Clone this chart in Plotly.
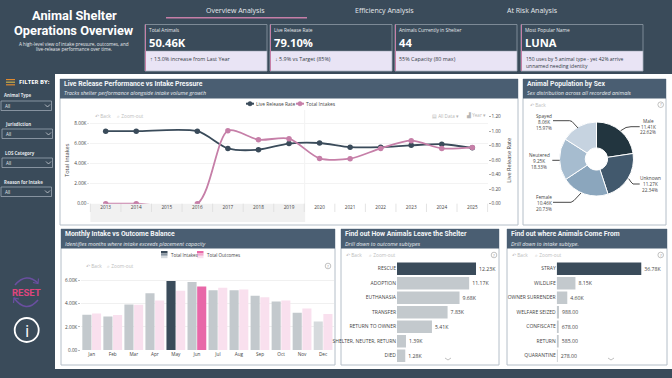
import plotly.graph_objects as go

W, H = 672, 378
BG = "#3a4b5a"
BAR_DARK = "#3a4b5a"
BAR_GREY = "#c3c9cd"
BAR_GREY2 = "#d6dadd"
PINK_L = "#f9e0ee"
PINK_D = "#e868a8"
LINE_PINK = "#c67fa8"
TITLE = "#4a5e72"
SANS = "Open Sans"
HEAD = "Roboto"

years = ["2013", "2014", "2015", "2016", "2017", "2018", "2019", "2020", "2021", "2022", "2023", "2024", "2025"]
intakes_k = [0, 0, None, 0, 7.3, 6.4, 6.5, 4.53, 4.5, 5.53, 6.3, 5.53, 5.63]
release_rate = [1.0, 1.0, None, 1.0, 0.763, 0.745, 0.83, 0.837, 0.78, 0.78, 0.805, 0.82, 0.77]

months = ["Jan", "Feb", "Mar", "Apr", "May", "Jun", "Jul", "Aug", "Sep", "Oct", "Nov", "Dec"]
month_intakes = [3.06, 2.91, 3.94, 4.91, 5.97, 5.89, 5.17, 5.17, 4.69, 4.2, 3.23, 2.46]
month_outcomes = [3.17, 3.03, 3.91, 4.29, 5.14, 5.49, 5.4, 5.23, 4.57, 4.29, 3.6, 3.11]

sex_labels = ["Male", "Unknown", "Female", "Neutered", "Spayed"]
sex_values = [11.41, 11.27, 10.46, 9.25, 8.06]
sex_pct = ["22.62%", "22.34%", "20.73%", "18.33%", "15.97%"]
sex_colors = ["#22353f", "#42596d", "#8ba6bd", "#a6bccf", "#c6d3e0"]

out_labels = ["RESCUE", "ADOPTION", "EUTHANASIA", "TRANSFER", "RETURN TO OWNER", "SHELTER, NEUTER, RETURN", "DIED"]
out_values = [12.23, 11.17, 9.68, 7.83, 5.41, 1.39, 1.28]
out_text = ["12.23K", "11.17K", "9.68K", "7.83K", "5.41K", "1.39K", "1.28K"]

in_labels = ["STRAY", "WILDLIFE", "OWNER SURRENDER", "WELFARE SEIZED", "CONFISCATE", "RETURN", "QUARANTINE"]
in_values = [36.78, 8.15, 4.60, 0.988, 0.678, 0.585, 0.278]
in_text = ["36.78K", "8.15K", "4.60K", "988.00", "678.00", "585.00", "278.00"]

kpi_titles = ["Total Animals", "Live Release Rate", "Animals Currently in Shelter", "Most Popular Name"]
kpi_values = ["50.46K", "79.10%", "44", "LUNA"]
kpi_notes = ["↑ 13.0% increase from Last Year", "↓ 5.9% vs Target (85%)", "55% Capacity (80 max)",
             "150 uses by 5 animal type - yet 42% arrive<br>unnamed needing identity"]
kpi_x = [(145, 267), (270, 392), (395, 517), (521, 643)]

filters = ["Animal Type", "Jurisdiction", "LOS Category", "Reason for Intake"]
filter_pos = [(95, 1, 101), (123.5, 2, 129), (152.7, 2, 158), (181.7, 1, 187)]

shapes, annos = [], []


def fx(x):
    return x / W


def fy(y):
    return 1 - y / H


def rect(x0, y0, x1, y1, fill, line=None, lw=1, layer="below"):
    shapes.append(dict(type="rect", xref="paper", yref="paper", x0=fx(x0), x1=fx(x1), y0=fy(y0), y1=fy(y1),
                       fillcolor=fill, line=dict(color=line or "rgba(0,0,0,0)", width=lw if line else 0), layer=layer))


def path(points, color, lw=1, layer="above"):
    d = "M " + " L ".join(f"{fx(a)},{fy(b)}" for a, b in points)
    shapes.append(dict(type="path", xref="paper", yref="paper", path=d, line=dict(color=color, width=lw), layer=layer))


def curve(d, color, lw=1.5):
    shapes.append(dict(type="path", xref="paper", yref="paper", path=d, line=dict(color=color, width=lw), layer="above"))


def circle(cx, cy, r, color, lw=1, fill="rgba(0,0,0,0)"):
    shapes.append(dict(type="circle", xref="paper", yref="paper", x0=fx(cx - r), x1=fx(cx + r), y0=fy(cy + r), y1=fy(cy - r),
                       line=dict(color=color, width=lw), fillcolor=fill, layer="above"))


def text(x, y, s, size=6, color="#444", anchor="left", bold=False, italic=False, font=SANS, angle=0):
    if bold:
        s = f"<b>{s}</b>"
    if italic:
        s = f"<i>{s}</i>"
    annos.append(dict(xref="paper", yref="paper", x=fx(x), y=fy(y), text=s, showarrow=False, xanchor=anchor,
                      yanchor="middle", borderpad=0, textangle=angle, align=anchor,
                      font=dict(size=size, color=color, family=font)))


def panel(x0, y0, x1, y1, title, sub, tsize=6.8):
    rect(x0, y0, x1, y1, "white", "#b4bec8", 1)
    rect(x0, y0, x1, y0 + 19.5, TITLE)
    text(x0 + 3, y0 + 5, title, tsize, "#f4f6f8", bold=True, font=HEAD)
    text(x0 + 3, y0 + 14.5, sub, 5.4, "#e8ecf0", italic=True)


def toolbar(xback, xzoom, y):
    text(xback, y, "↶ Back", 4.8, "#bdbdbd")
    if xzoom:
        text(xzoom, y, "⌕ Zoom-out", 4.8, "#bdbdbd")


def helpmark(x, y):
    circle(x, y, 2.8, "#a8a8a8", 0.7)
    text(x, y, "?", 4.2, "#909090", "center")


# Page furniture
rect(55, 74, 672, 369, "white")
text(74, 15.2, "Animal Shelter", 12.8, "white", "center", bold=True, font=HEAD)
text(74, 31, "Operations Overview", 12.8, "white", "center", bold=True, font=HEAD)
text(74, 43.5, "A high-level view of intake pressure, outcomes, and", 4.6, "#e6e9ec", "center")
text(74, 49, "live-release performance over time.", 4.6, "#e6e9ec", "center")

text(236, 10, "Overview Analysis", 7, "#e6e9ec", "center")
text(384, 10, "Efficiency Analysis", 7, "#e6e9ec", "center")
text(532, 10, "At Risk Analysis", 7, "#e6e9ec", "center")
rect(166, 17, 307, 18.5, "#c67fa8")

for (x0, x1), t, v, n in zip(kpi_x, kpi_titles, kpi_values, kpi_notes):
    rect(x0, 24.5, x1, 71, BG, "#8e9aa6", 0.8)
    rect(x0, 51, x1, 71, "#e9e4f5", "#8e9aa6", 0.5)
    rect(x0, 24.5, x0 + 1, 71, "#c67fa8")
    text(x0 + 3, 30, t, 4.8, "#e6e9ec")
    text(x0 + 3, 42, v, 11.2, "white", bold=True)
    long_note = "<br>" in n
    text(x0 + 3.5, 63 if long_note else 59, n, 5 if long_note else 5.4, "#333a44")

# Filter column
for i, c in enumerate(["#e08a30", "#c9b04a", "#e08a30"]):
    rect(6, 79 + i * 2.6, 15, 80.2 + i * 2.6, c)
text(17.5, 82, "FILTER BY:", 6, "white", bold=True)
for lab, (ly, bx, by) in zip(filters, filter_pos):
    text(bx + 1.5, ly, lab, 4.4, "#e0e4e8", bold=True)
    rect(bx, by, bx + 50.5, by + 9.5, "rgba(0,0,0,0)", "#9aa6b2", 0.8)
    text(bx + 3, by + 5, "All", 4.6, "#e0e4e8")
    path([(bx + 44, by + 3.5), (bx + 46.5, by + 6), (bx + 49, by + 3.5)], "#dfe3e7", 0.7)

# Reset and info
curve(f"M {fx(15)},{fy(285)} Q {fx(26)},{fy(272)} {fx(38)},{fy(283)}", "#6a4fa0", 1.6)
curve(f"M {fx(38)},{fy(300)} Q {fx(26)},{fy(314)} {fx(14)},{fy(298)}", "#6a4fa0", 1.6)
path([(33, 282.5), (38, 283.5), (38.5, 278.5)], "#6a4fa0", 1.2)
path([(19, 299), (14, 298), (13.5, 303)], "#6a4fa0", 1.2)
text(26, 292.7, "RESET", 9.5, "#e0457e", "center", bold=True, font=HEAD)
circle(26.7, 330, 12, "white", 1.8)
text(26.7, 330, "i", 17, "white", "center", font=SANS)

# Panels
panel(60, 79, 518, 225, "Live Release Performance vs Intake Pressure", "Tracks shelter performance alongside intake volume growth")
panel(523, 79, 666, 225, "Animal Population by Sex", "Sex distribution across all recorded animals")
panel(61, 229, 335, 365, "Monthly Intake vs Outcome Balance", "Identifies months where intake exceeds placement capacity")
panel(341, 229, 499, 365, "Find out How Animals Leave the Shelter", "Drill down to outcome subtypes")
panel(507, 229, 667, 365, "Find out where Animals Come From", "Drill down to intake subtype.")

# Line chart furniture
PL, PR, PT, PB = 90.4, 487.6, 116.7, 203.7
rect(PL, PB, 304.7, 222, "#f1f1f1")
path([(304.7, 110), (304.7, 222)], "#eeeeee", 0.8, "below")
for i in range(len(years) + 1):
    bx = PL + (PR - PL) * i / len(years)
    path([(bx, PB), (bx, 212)], "#dddddd", 0.8, "below")
toolbar(94, 116, 115.7)
text(431, 115.7, "▤ All Data ▾", 4.6, "#b5b5b5")
text(465, 115.7, "▟ Year ▾", 4.6, "#b5b5b5")
path([(246, 103.7), (254, 103.7)], BAR_DARK, 2)
circle(250, 103.7, 2.2, BAR_DARK, 0.5, BAR_DARK)
text(255, 103.7, "Live Release Rate", 4.9, "#444")
path([(296, 103.7), (304, 103.7)], LINE_PINK, 2)
circle(300, 103.7, 2.2, LINE_PINK, 0.5, LINE_PINK)
text(305, 103.7, "Total Intakes", 4.9, "#444")

# Pie labels
leaders = [
    [(620.7, 130.7), (626, 127.5), (631, 126.7), (639.7, 126.7)],
    [(628.7, 178.7), (631, 182), (633, 184), (639.7, 184)],
    [(581, 193), (574, 200.5), (571, 202.3), (553, 202.3)],
    [(559.7, 160.3), (552.3, 160.3)],
    [(578, 128), (572, 121.5), (569.7, 120.7), (553, 120.7)],
]
label_pos = [(648, 120.7), (650.3, 178), (544, 197), (539, 155), (543.7, 116)]
for lab, val, pct, pts, (lx, ly) in zip(sex_labels, sex_values, sex_pct, leaders, label_pos):
    path(pts, "#333333", 0.9)
    text(lx, ly, lab, 4.7, "#444", "center")
    text(lx, ly + 5.8, f"{val:.2f}K", 4.7, "#444", "center")
    text(lx, ly + 11.8, pct, 4.7, "#444", "center")
toolbar(529, None, 104.7)
helpmark(660.7, 104.7)

# Monthly furniture
for x, c in [(161, ("#3a4b5a", "#8794a0", "#d5dade")), (197, ("#e868a8", "#f3a8cd", "#f9e0ee"))]:
    for i, col in enumerate(c):
        rect(x, 251 + i * 2.4, x + 6.5, 253.4 + i * 2.4, col)
text(169.7, 254.5, "Total Intakes", 4.5, "#444")
text(206, 254.5, "Total Outcomes", 4.5, "#444")
toolbar(84.5, 106, 266)
helpmark(328, 266)

# Bar panels furniture
toolbar(345, 368, 255)
helpmark(494, 255)
path([(445, 358), (448, 360), (451, 358)], "#b0b0b0", 0.8)
toolbar(511, 534, 255)
helpmark(660.7, 255)
path([(608, 358), (611, 360), (614, 358)], "#b0b0b0", 0.8)

fig = go.Figure()
fig.add_trace(go.Scatter(x=years, y=release_rate, mode="lines+markers", name="Live Release Rate", yaxis="y", xaxis="x",
                         connectgaps=True, line=dict(color=BAR_DARK, width=1.8, shape="spline", smoothing=0.8),
                         marker=dict(size=5.5, color=BAR_DARK)))
fig.add_trace(go.Scatter(x=years, y=intakes_k, mode="lines+markers", name="Total Intakes", yaxis="y2", xaxis="x",
                         connectgaps=True, line=dict(color=LINE_PINK, width=1.8, shape="spline", smoothing=0.8),
                         marker=dict(size=5.5, color=LINE_PINK)))

in_colors = [BAR_GREY] * 12
in_colors[4] = BAR_DARK
in_colors[11] = BAR_GREY2
out_colors = [PINK_L] * 12
out_colors[5] = PINK_D
fig.add_trace(go.Bar(x=months, y=month_intakes, name="Total Intakes", marker=dict(color=in_colors, line=dict(width=0)), xaxis="x3", yaxis="y3"))
fig.add_trace(go.Bar(x=months, y=month_outcomes, name="Total Outcomes", marker=dict(color=out_colors, line=dict(width=0)), xaxis="x3", yaxis="y3"))

fig.add_trace(go.Pie(labels=sex_labels, values=sex_values, sort=False, direction="clockwise", rotation=0, hole=0.3,
                     textinfo="none", marker=dict(colors=sex_colors, line=dict(color="white", width=1)),
                     domain=dict(x=[fx(559.5), fx(633.5)], y=[fy(196), fy(122)])))

fig.add_trace(go.Bar(y=out_labels, x=out_values, orientation="h", text=out_text, textposition="outside", cliponaxis=False,
                     textfont=dict(size=5.2, color="#444", family=SANS),
                     marker=dict(color=[BAR_DARK] + [BAR_GREY] * 6, line=dict(width=0)), xaxis="x4", yaxis="y4", name="Outcomes"))
fig.add_trace(go.Bar(y=in_labels, x=in_values, orientation="h", text=in_text, textposition="outside", cliponaxis=False,
                     textfont=dict(size=5.2, color="#444", family=SANS),
                     marker=dict(color=[BAR_DARK] + [BAR_GREY] * 6, line=dict(width=0)), xaxis="x5", yaxis="y5", name="Intakes"))

tick = dict(size=4.7, color="#444", family=SANS)
fig.update_layout(
    template="none", width=W, height=H, margin=dict(l=0, r=0, t=0, b=0, pad=0), autosize=False,
    paper_bgcolor=BG, plot_bgcolor="rgba(0,0,0,0)", showlegend=False, hovermode=False,
    bargap=0.08, bargroupgap=0.06, font=dict(family=SANS), shapes=shapes, annotations=annos,
    xaxis=dict(domain=[fx(PL), fx(PR)], anchor="y", type="category", range=[-0.5, 12.5], categoryorder="array", categoryarray=years,
               tickfont=tick, ticks="", showgrid=False, zeroline=False, showline=False, automargin=False, tickmode="array", tickvals=years),
    yaxis=dict(domain=[fy(PB), fy(PT)], anchor="x", side="right", range=[0, 1.2], tickvals=[0, .2, .4, .6, .8, 1, 1.2],
               tickformat=".2f", tickfont=tick, ticks="outside", ticklen=2, tickcolor="#aaa", showgrid=False, zeroline=False, automargin=False,
               title=dict(text="Live Release Rate", font=dict(size=5.6, color="#444"), standoff=6)),
    yaxis2=dict(overlaying="y", side="left", range=[0, 8.7], tickvals=[0, 2, 4, 6, 8], ticktext=["0.00", "2.00K", "4.00K", "6.00K", "8.00K"],
                tickfont=tick, ticks="outside", ticklen=2, tickcolor="#ddd", showgrid=True, gridcolor="#f3f3f3", gridwidth=0.8, zeroline=False, automargin=False,
                title=dict(text="Total Intakes", font=dict(size=5.6, color="#444"), standoff=4)),
    xaxis3=dict(domain=[fx(81.2), fx(333.6)], anchor="y3", tickfont=tick, ticks="", showgrid=False, zeroline=False, automargin=False,
                type="category", categoryorder="array", categoryarray=months),
    yaxis3=dict(domain=[fy(350), fy(275)], anchor="x3", range=[0, 75 / 11.55], tickvals=[0, 2, 4, 6], ticktext=["0.00", "2.00K", "4.00K", "6.00K"],
                tickfont=tick, ticks="outside", ticklen=2, tickcolor="#bbb", showgrid=True, gridcolor="#f0f0f0", gridwidth=0.8, zeroline=False, automargin=False),
    xaxis4=dict(domain=[fx(397), fx(497)], anchor="y4", range=[0, 15.48], visible=False),
    yaxis4=dict(domain=[fy(362.9), fy(261.5)], anchor="x4", type="category", categoryorder="array", categoryarray=out_labels, range=[6.5, -0.5],
                tickfont=dict(size=5, color="#444", family=SANS), ticks="", showgrid=False, zeroline=False, showline=False, automargin=False),
    xaxis5=dict(domain=[fx(556.7), fx(665)], anchor="y5", range=[0, 47.1], visible=False),
    yaxis5=dict(domain=[fy(362.9), fy(261.5)], anchor="x5", type="category", categoryorder="array", categoryarray=in_labels, range=[6.5, -0.5],
                tickfont=dict(size=5, color="#444", family=SANS), ticks="", showgrid=False, zeroline=False, showline=False, automargin=False),
)

fig.write_html("out.html", config=dict(displayModeBar=False, responsive=False),
               post_script=f"document.body.style.margin='0';document.body.style.background='{BG}';document.body.style.overflow='hidden';")
